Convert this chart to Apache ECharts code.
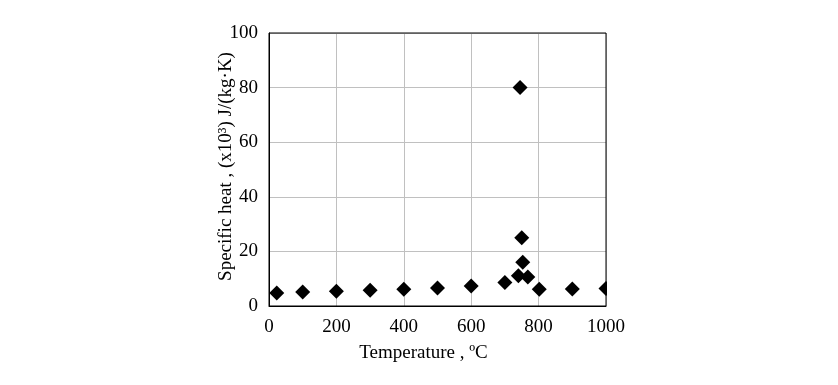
<!DOCTYPE html>
<html><head><meta charset="utf-8">
<script src="https://cdn.jsdelivr.net/npm/echarts@6/dist/echarts.min.js"></script>
<style>html,body{margin:0;padding:0;background:#fff}#c{width:838px;height:385px}</style>
</head><body><div id="c"></div>
<script>
var temperature = [23, 100, 200, 300, 400, 500, 600, 700, 740, 768, 753, 750, 745, 802, 900, 1000];
var specificHeat = [4.8, 5.1, 5.4, 5.75, 6.1, 6.6, 7.3, 8.6, 11.1, 10.6, 16.0, 25.0, 80.0, 6.1, 6.2, 6.4];
var xTicks = [0, 200, 400, 600, 800, 1000];
var yTicks = [0, 20, 40, 60, 80, 100];

var pts = temperature.map(function(t, i){ return [t, specificHeat[i]]; });
var font = 'Liberation Serif, Times New Roman, serif';
var fs = 19;
var chart = echarts.init(document.getElementById('c'));
chart.setOption({
  animation: false,
  backgroundColor: '#fff',
  grid: {left: 269, right: 232, top: 33, bottom: 79, show: true, borderColor: '#000', borderWidth: 1, z: 5},
  xAxis: {
    type: 'value', min: xTicks[0], max: xTicks[xTicks.length-1], interval: 200,
    name: 'Temperature , \u00baC', nameLocation: 'middle', nameGap: 38, nameMoveOverlap: false,
    nameTextStyle: {fontFamily: font, fontSize: fs, color: '#000', padding: [0, 28, 0, 0]},
    axisLine: {show: true, lineStyle: {color: '#000', width: 1}},
    axisTick: {show: false},
    axisLabel: {fontFamily: font, fontSize: fs, color: '#000', margin: 12, formatter: function(v){ return String(v); }},
    splitLine: {show: true, lineStyle: {color: '#c0c0c0', width: 1}}
  },
  yAxis: {
    type: 'value', min: yTicks[0], max: yTicks[yTicks.length-1], interval: 20,
    name: 'Specific heat , (x10\u00b3) J/(kg\u00b7K)', nameLocation: 'middle', nameGap: 33, nameRotate: 90, nameMoveOverlap: false,
    nameTextStyle: {fontFamily: font, fontSize: fs, color: '#000', padding: [0, 0, 0, 6]},
    axisLine: {show: true, lineStyle: {color: '#000', width: 1}},
    axisTick: {show: false},
    axisLabel: {fontFamily: font, fontSize: fs, color: '#000', margin: 11, formatter: function(v){ return String(v); }},
    splitLine: {show: true, lineStyle: {color: '#c0c0c0', width: 1}}
  },
  graphic: [{type: 'rect', shape: {x: 607, y: 20, width: 40, height: 287}, style: {fill: '#fff'}, z: 100}],
  series: [{
    type: 'scatter', data: pts, symbol: 'diamond', symbolSize: 15,
    itemStyle: {color: '#000', opacity: 1}, clip: false, z: 3
  }]
});
</script></body></html>
